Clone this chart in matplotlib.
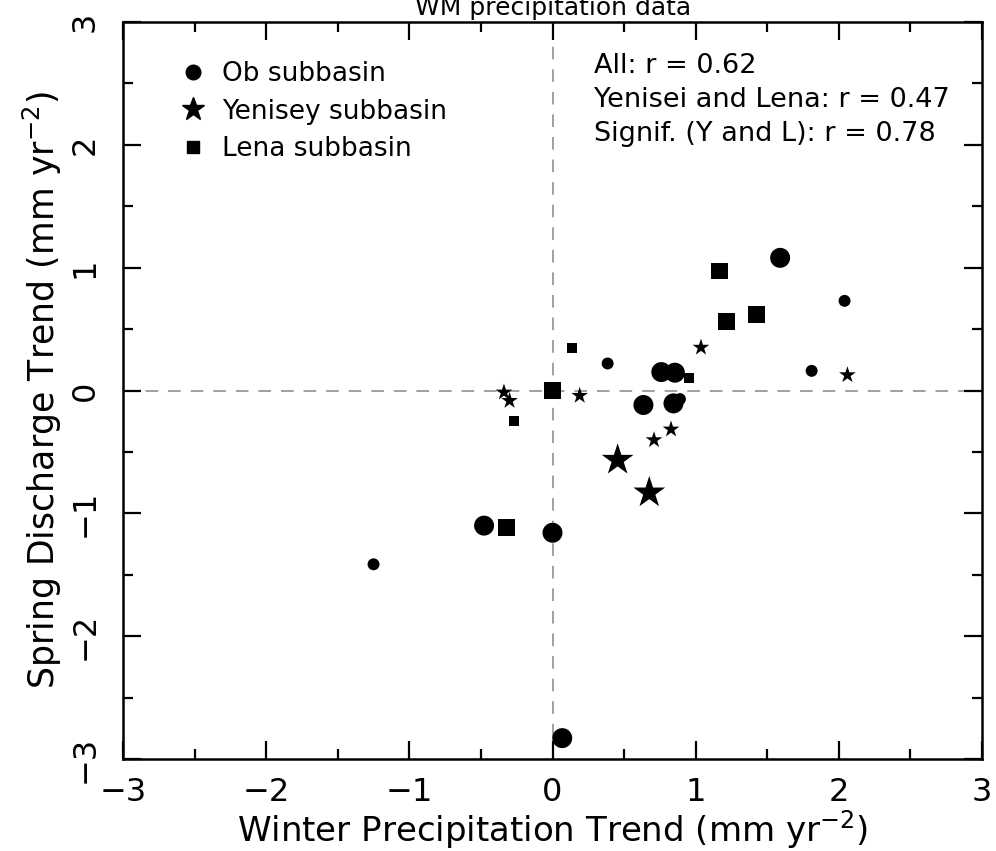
"""Spring discharge trend vs winter precipitation trend, Ob / Yenisey / Lena subbasins."""
import matplotlib
matplotlib.use("Agg")
import matplotlib.pyplot as plt
from matplotlib.lines import Line2D
import numpy as np

# --- data (mm yr^-2) ---
ob_x = [1.59, 2.04, 1.81, 0.385, 0.76, 0.855, 0.635, 0.845, 0.89, -0.478, 0.0, -1.25, 0.068]
ob_y = [1.08, 0.73, 0.16, 0.22, 0.15, 0.145, -0.118, -0.105, -0.07, -1.10, -1.158, -1.415, -2.83]
ob_big = [1, 0, 0, 0, 1, 1, 1, 1, 0, 1, 1, 0, 1]

yen_x = [-0.339, -0.30, 0.19, 1.037, 2.06, 0.828, 0.709, 0.455, 0.676]
yen_y = [-0.015, -0.083, -0.042, 0.35, 0.126, -0.316, -0.403, -0.566, -0.832]
yen_big = [0, 0, 0, 0, 0, 0, 0, 1, 1]

lena_x = [1.165, 1.216, 1.426, 0.138, 0.955, 0.0, -0.27, -0.32]
lena_y = [0.973, 0.56, 0.62, 0.35, 0.10, 0.0, -0.25, -1.114]
lena_big = [1, 1, 1, 0, 0, 1, 0, 1]

labels = ["Ob subbasin", "Yenisey subbasin", "Lena subbasin"]
stats = ["All: r = 0.62", "Yenisei and Lena: r = 0.47", "Signif. (Y and L): r = 0.78"]
ticks = [-3, -2, -1, 0, 1, 2, 3]

W, H = 996, 851
fig = plt.figure(figsize=(W / 100, H / 100), dpi=100)
ax = fig.add_axes([123 / W, 1 - 759 / H, 859 / W, 737 / H])

# size classes: (small, big) in points^2
SIZES = {"o": (74, 207), "*": (160, 580), "s": (52, 149)}

ax.axhline(0, color="#999999", lw=1.3, ls=(0, (7, 5.5)), zorder=1)
ax.axvline(0, color="#999999", lw=1.3, ls=(0, (7, 5.5)), zorder=1)

for xs, ys, big, m in [(ob_x, ob_y, ob_big, "o"),
                       (yen_x, yen_y, yen_big, "*"),
                       (lena_x, lena_y, lena_big, "s")]:
    s = [SIZES[m][b] for b in big]
    ax.scatter(xs, ys, s=s, marker=m, c="black", linewidths=0, zorder=3)

ax.set_xlim(-3, 3)
ax.set_ylim(-3, 3)
ax.set_xticks(ticks)
ax.set_yticks(ticks)
ax.set_xticks(np.arange(-2.5, 3, 1.0), minor=True)
ax.set_yticks(np.arange(-2.5, 3, 1.0), minor=True)
ax.set_xticklabels(["\u2212" + str(-t) if t < 0 else str(t) for t in ticks])
ax.set_yticklabels(["\u2212" + str(-t) if t < 0 else str(t) for t in ticks])

ax.tick_params(which="both", direction="in", top=True, right=True, width=1.6)
ax.tick_params(which="major", length=13, labelsize=23)
ax.tick_params(which="minor", length=7)
ax.tick_params(axis="x", pad=13)
ax.tick_params(axis="y", pad=16)
for lbl in ax.get_yticklabels():
    lbl.set_rotation(90)
    lbl.set_va("center")
for sp in ax.spines.values():
    sp.set_linewidth(1.8)

ax.set_xlabel(r"Winter Precipitation Trend (mm yr$^{-2}$)", fontsize=24.5, labelpad=0)
ax.set_ylabel(r"Spring Discharge Trend (mm yr$^{-2}$)", fontsize=25, labelpad=4)

handles = [Line2D([], [], marker="o", ls="", color="k", markersize=10.5),
           Line2D([], [], marker="*", ls="", color="k", markersize=17),
           Line2D([], [], marker="s", ls="", color="k", markersize=8.5)]
ax.legend(handles, labels, loc="upper left", bbox_to_anchor=(0.054, 0.961),
          frameon=False, fontsize=19, handlelength=1.0, handletextpad=0.6,
          labelspacing=0.43, borderaxespad=0)

ax.text(0.548, 0.958, "\n".join(stats), transform=ax.transAxes,
        fontsize=19.5, va="top", ha="left", linespacing=1.40)

fig.text(553 / W, 1 - 15 / H, "WM precipitation data", fontsize=18,
         ha="center", va="baseline")

fig.savefig("out.png", dpi=100)
